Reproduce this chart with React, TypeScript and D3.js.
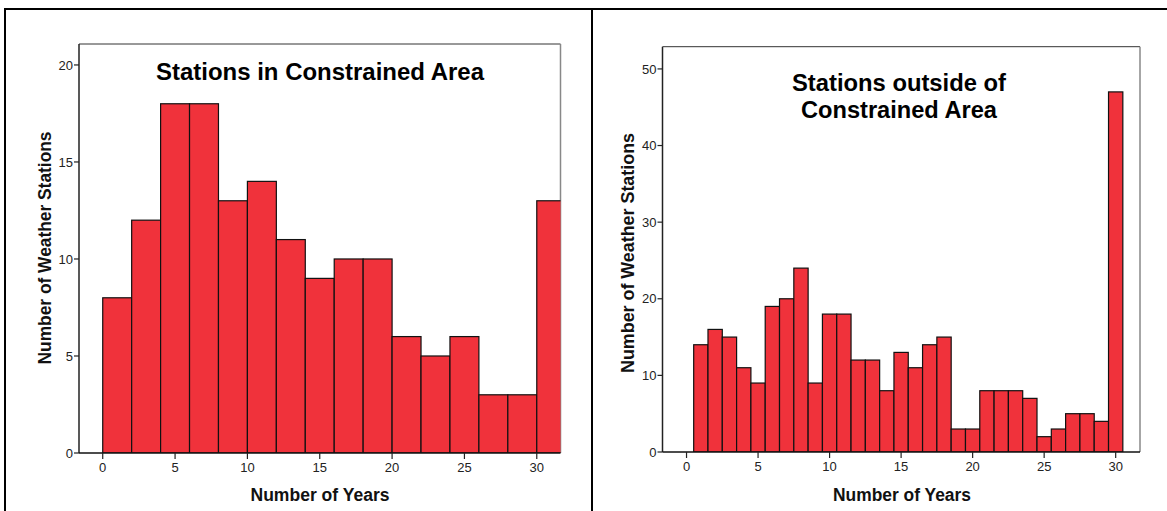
import React from "react";
import * as d3 from "d3";

// ---------- data ----------
const leftBinStarts = [0, 2, 4, 6, 8, 10, 12, 14, 16, 18, 20, 22, 24, 26, 28, 30];
const leftCounts = [8, 12, 18, 18, 13, 14, 11, 9, 10, 10, 6, 5, 6, 3, 3, 13];
const leftBinWidth = 2;

const rightYears = [1, 2, 3, 4, 5, 6, 7, 8, 9, 10, 11, 12, 13, 14, 15, 16, 17, 18, 19, 20, 21, 22, 23, 24, 25, 26, 27, 28, 29, 30];
const rightCounts = [14, 16, 15, 11, 9, 19, 20, 24, 9, 18, 18, 12, 12, 8, 13, 11, 14, 15, 3, 3, 8, 8, 8, 7, 2, 3, 5, 5, 4, 47];
const rightBinWidth = 1;

const xTicks = [0, 5, 10, 15, 20, 25, 30];
const leftYTicks = [0, 5, 10, 15, 20];
const rightYTicks = [0, 10, 20, 30, 40, 50];

const leftTitle = ["Stations in Constrained Area"];
const rightTitle = ["Stations outside of", "Constrained Area"];
const xLabel = "Number of Years";
const yLabel = "Number of Weather Stations";

const BAR_FILL = "#F0323B";
const FONT = "Arial, 'Liberation Sans', Helvetica, sans-serif";

type PanelProps = {
  id: string;
  bars: { x0: number; x1: number; v: number }[];
  xDomain: [number, number];
  xRange: [number, number];
  yDomain: [number, number];
  yRange: [number, number];
  yTicks: number[];
  title: string[];
  titleX: number;
  titleY: number[];
  titleLen: number[];
  yLabelX: number;
  yLabelY: number;
  yLabelLen: number;
  xLabelX: number;
  xLabelLen: number;
};

function Panel(p: PanelProps) {
  const x = d3.scaleLinear().domain(p.xDomain).range(p.xRange);
  const y = d3.scaleLinear().domain(p.yDomain).range(p.yRange);
  const [L, R] = p.xRange;
  const [B, T] = p.yRange;
  return (
    <g>
      <defs>
        <clipPath id={p.id + "-clip"}>
          <rect x={L} y={T} width={R - L} height={B - T} />
        </clipPath>
      </defs>
      <line x1={L} x2={R} y1={T} y2={T} stroke="#333" strokeWidth={1} />
      <line x1={R} x2={R} y1={T} y2={B} stroke="#888" strokeWidth={1.5} />
      <g clipPath={`url(#${p.id}-clip)`}>
        {p.bars.map((b, i) => (
          <rect
            key={i}
            x={x(b.x0)}
            y={y(b.v)}
            width={x(b.x1) - x(b.x0)}
            height={y(0) - y(b.v)}
            fill={BAR_FILL}
            stroke="#111"
            strokeWidth={1.2}
          />
        ))}
      </g>
      <line x1={L} x2={L} y1={T} y2={B} stroke="#222" strokeWidth={1.5} />
      <line x1={L} x2={R} y1={B} y2={B} stroke="#111" strokeWidth={1.5} />
      {p.yTicks.map((t) => (
        <g key={"y" + t}>
          <line x1={L - 5} x2={L} y1={y(t)} y2={y(t)} stroke="#222" strokeWidth={1.2} />
          <text x={L - 6} y={y(t)} dy="0.36em" textAnchor="end" fontSize={13} fill="#222" fontFamily={FONT}>
            {t}
          </text>
        </g>
      ))}
      {xTicks.map((t) => (
        <g key={"x" + t}>
          <line x1={x(t)} x2={x(t)} y1={B} y2={B + 6} stroke="#222" strokeWidth={1.2} />
          <text x={x(t)} y={B + 19} textAnchor="middle" fontSize={13} fill="#222" fontFamily={FONT}>
            {t}
          </text>
        </g>
      ))}
      {p.title.map((s, i) => (
        <text
          key={i}
          x={p.titleX}
          y={p.titleY[i]}
          textAnchor="middle"
          fontSize={23.5}
          fontWeight="bold"
          fontFamily={FONT}
          fill="#000"
          textLength={p.titleLen[i]}
          lengthAdjust="spacingAndGlyphs"
        >
          {s}
        </text>
      ))}
      <text
        x={p.xLabelX}
        y={501}
        textAnchor="middle"
        fontSize={17.5}
        fontWeight="bold"
        fontFamily={FONT}
        fill="#111"
        textLength={p.xLabelLen}
        lengthAdjust="spacingAndGlyphs"
      >
        {xLabel}
      </text>
      <text
        transform={`translate(${p.yLabelX},${p.yLabelY}) rotate(-90)`}
        textAnchor="middle"
        fontSize={17.5}
        fontWeight="bold"
        fontFamily={FONT}
        fill="#111"
        textLength={p.yLabelLen}
        lengthAdjust="spacingAndGlyphs"
      >
        {yLabel}
      </text>
    </g>
  );
}

export default function App() {
  const leftBars = leftBinStarts.map((s, i) => ({ x0: s, x1: s + leftBinWidth, v: leftCounts[i] }));
  const rightBars = rightYears.map((yv, i) => ({
    x0: yv - rightBinWidth / 2,
    x1: yv + rightBinWidth / 2,
    v: rightCounts[i],
  }));
  return (
    <svg
      width={1167}
      height={511}
      style={{ position: "absolute", left: 0, top: 0, background: "#fff" }}
    >
      <rect x={0} y={0} width={1167} height={511} fill="#fff" />
      <line x1={4} x2={1167} y1={9} y2={9} stroke="#000" strokeWidth={2} />
      <line x1={5} x2={5} y1={8} y2={511} stroke="#000" strokeWidth={2} />
      <line x1={592} x2={592} y1={8} y2={511} stroke="#000" strokeWidth={2} />
      <Panel
        id="left"
        bars={leftBars}
        xDomain={[-1.64, 31.64]}
        xRange={[79, 560.5]}
        yDomain={[0, 21.08]}
        yRange={[453, 44]}
        yTicks={leftYTicks}
        title={leftTitle}
        titleX={320}
        titleY={[80]}
        titleLen={[328]}
        yLabelX={51}
        yLabelY={248}
        yLabelLen={233}
        xLabelX={320}
        xLabelLen={139}
      />
      <Panel
        id="right"
        bars={rightBars}
        xDomain={[-1.68, 31.7]}
        xRange={[662.5, 1140]}
        yDomain={[0, 52.9]}
        yRange={[452, 46.7]}
        yTicks={rightYTicks}
        title={rightTitle}
        titleX={899}
        titleY={[91, 118]}
        titleLen={[214, 196]}
        yLabelX={634}
        yLabelY={253}
        yLabelLen={240}
        xLabelX={902}
        xLabelLen={138}
      />
    </svg>
  );
}
